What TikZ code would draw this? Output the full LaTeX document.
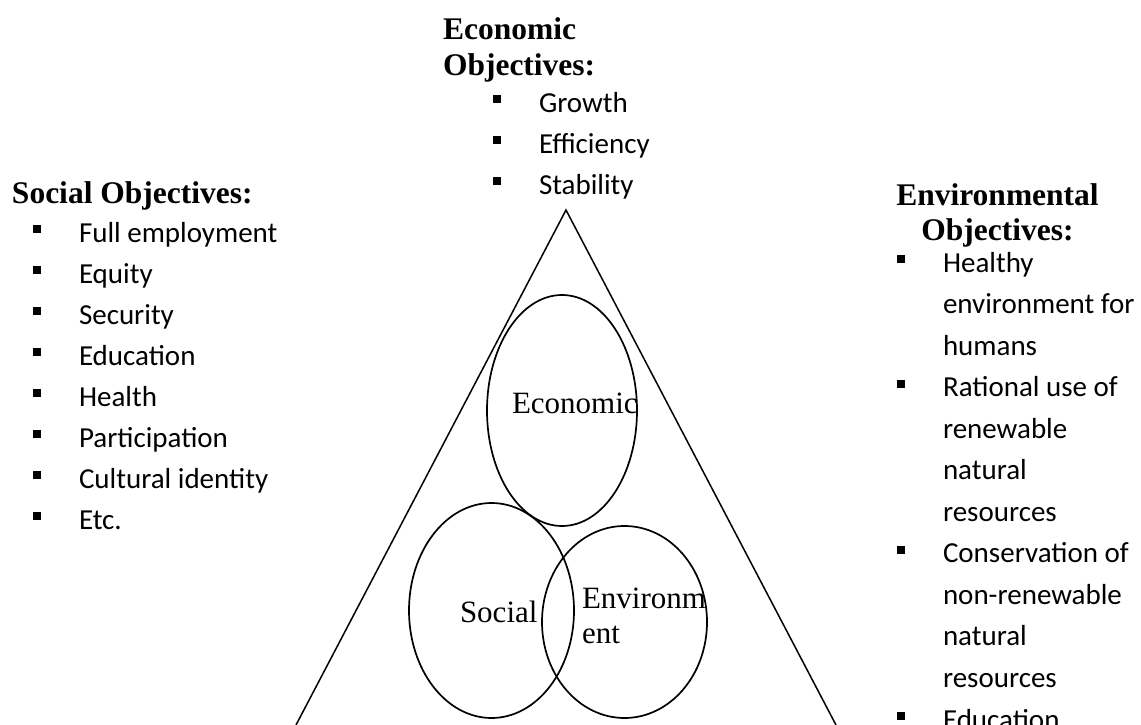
\documentclass[tikz,border=0pt]{standalone}
\usepackage{fontspec}
\setmainfont{Liberation Serif}
\newfontfamily\itemfont{Carlito}
\usetikzlibrary{shapes.geometric}

\tikzset{
  txt/.style={inner sep=0pt, outer sep=0pt, anchor=base west},
  heading/.style={txt, font=\fontsize{31.5}{35}\selectfont\bfseries},
  circlabel/.style={txt, font=\fontsize{31}{35}\selectfont},
  item/.style={txt, font=\itemfont\fontsize{29}{35}\selectfont},
  bulletsq/.style={rectangle, fill=black, inner sep=0pt, minimum size=8pt},
  pillar/.style={ellipse, draw=black, line width=1.7pt, inner sep=0pt},
  edge/.style={draw=black, line width=1.5pt}
}

% bullet point: square marker plus its text, baseline at (#2,#3)
\newcommand{\bulletitem}[4]{%
  \node[bulletsq] (#1-mark) at (#2+4,#3-13) {};
  \node[item] (#1) at (#2+46,#3) {#4};
}

\begin{document}
\begin{tikzpicture}[x=1pt,y=-1pt]
  \useasboundingbox (0,0) rectangle (1141,725);
  \clip (0,0) rectangle (1141,725);

  % the triangle
  \coordinate (apex) at (566,210);
  \coordinate (baseL) at (296,725);
  \coordinate (baseR) at (836,725);
  \draw[edge] (baseL) -- (apex) -- (baseR);

  % the three pillars
  \node[pillar, minimum width=150pt, minimum height=231pt] (econ) at (562,410.5) {};
  \node[pillar, minimum width=165pt, minimum height=215pt] (soc) at (491.5,610.5) {};
  \node[pillar, minimum width=165pt, minimum height=192pt] (env) at (624.5,622) {};

  \node[circlabel] (econlbl) at (512,413) {Economic};
  \node[circlabel] (soclbl) at (460,622) {Social};
  \node[circlabel] (envlbl1) at (582,608) {Environm};
  \node[circlabel] (envlbl2) at (582,643) {ent};

  % economic objectives
  \node[heading] (econh1) at (443,40) {Economic};
  \node[heading] (econh2) at (443,75) {Objectives:};
  \bulletitem{e1}{493}{112}{Growth}
  \bulletitem{e2}{493}{153}{Efficiency}
  \bulletitem{e3}{493}{194}{Stability}

  % social objectives
  \node[heading] (soch) at (12,203) {Social Objectives:};
  \bulletitem{s1}{33}{242}{Full employment}
  \bulletitem{s2}{33}{283}{Equity}
  \bulletitem{s3}{33}{324}{Security}
  \bulletitem{s4}{33}{365}{Education}
  \bulletitem{s5}{33}{406}{Health}
  \bulletitem{s6}{33}{447}{Participation}
  \bulletitem{s7}{33}{488}{Cultural identity}
  \bulletitem{s8}{33}{529}{Etc.}

  % environmental objectives
  \node[heading, anchor=base] (envh1) at (997.5,205) {Environmental};
  \node[heading, anchor=base] (envh2) at (997.5,240) {Objectives:};
  \bulletitem{v1}{897}{272}{Healthy}
  \node[item] (v1b) at (943,313.5) {environment for};
  \node[item] (v1c) at (943,355) {humans};
  \bulletitem{v2}{897}{396.5}{Rational use of}
  \node[item] (v2b) at (943,438) {renewable};
  \node[item] (v2c) at (943,479.5) {natural};
  \node[item] (v2d) at (943,521) {resources};
  \bulletitem{v3}{897}{562.5}{Conservation of}
  \node[item] (v3b) at (943,604) {non-renewable};
  \node[item] (v3c) at (943,645.5) {natural};
  \node[item] (v3d) at (943,687) {resources};
  \bulletitem{v4}{897}{729}{Education}
\end{tikzpicture}
\end{document}
